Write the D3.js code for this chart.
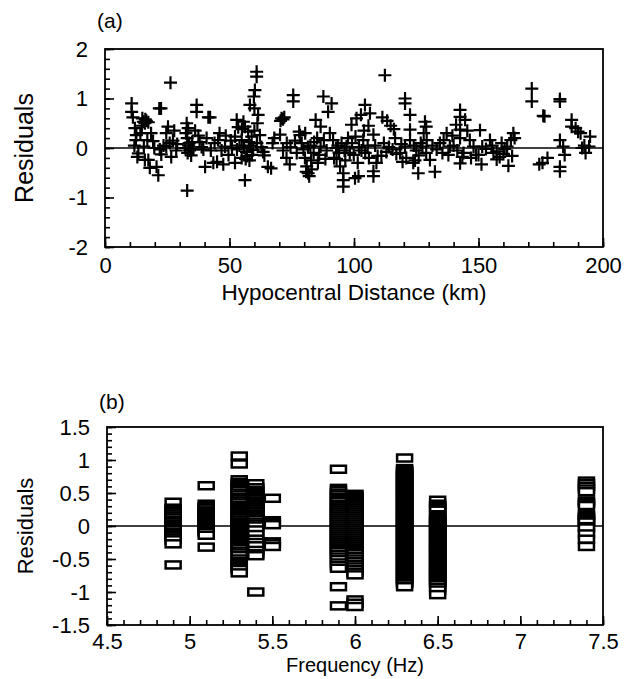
<!DOCTYPE html>
<html>
<head>
<meta charset="utf-8">
<script src="https://cdn.jsdelivr.net/npm/d3@7"></script>
<style>
  body { margin: 0; background: #fff; }
  svg text { font-family: "Liberation Sans", Arial, sans-serif; fill: #000; }
</style>
</head>
<body>
<svg id="chart" width="629" height="679"></svg>
<script>
// (a) residual vs hypocentral distance, [km, residual]
var hypoPts = [
  [10.7,0.90],[10.7,0.73],[11.2,0.62],[12.0,0.40],[12.6,0.26],[12.4,0.16],[11.8,0.05],[13.4,-0.11],[13.0,-0.18],[14.2,0.30],
  [14.8,0.45],[15.4,0.53],[15.0,0.60],[16.0,0.50],[16.6,0.55],[17.4,0.52],[16.2,0.58],[15.6,0.03],[16.0,-0.24],[17.4,-0.24],
  [18.0,-0.40],[17.0,0.16],[19.3,0.14],[18.5,0.30],[19.8,0.00],[21.4,-0.55],[20.7,-0.38],[21.8,0.80],[22.5,0.80],[22.0,-0.03],
  [22.6,-0.13],[23.5,0.05],[24.6,0.30],[25.3,0.43],[26.3,1.32],[26.0,0.10],[24.6,0.03],[27.3,0.15],[28.6,-0.05],[26.6,-0.18],
  [27.8,0.35],[29.0,0.08],
  [32.8,0.50],[33.4,0.40],[32.5,0.30],[33.0,0.20],[33.8,0.10],[32.2,0.00],[34.0,-0.05],[33.2,-0.10],[34.6,-0.15],[33.0,-0.86],
  [33.6,0.05],[34.2,-0.02],[35.0,0.12],[36.8,0.87],[36.8,0.73],[36.2,0.35],[37.5,0.25],[38.0,0.12],[35.5,-0.03],[39.5,-0.03],
  [40.2,-0.38],[41.5,0.62],[42.2,0.62],[40.8,0.20],[44.0,0.10],[46.0,0.30],[45.4,0.16],[46.8,-0.05],[43.5,-0.30],[47.5,-0.33],
  [45.0,-0.28],[48.2,0.03],[49.6,-0.14],[48.5,0.25],[42.5,-0.05],[38.8,0.02],
  [60.9,1.54],[60.9,1.44],[60.2,1.17],[59.8,1.04],[58.2,0.87],[60.0,0.80],[61.5,0.67],[52.9,0.57],[55.6,0.53],[56.2,0.43],
  [57.5,0.33],[52.2,0.23],[54.9,0.16],[58.9,0.23],[62.2,0.26],[51.0,0.00],[53.0,-0.03],[55.8,0.01],[59.5,-0.04],[52.2,-0.30],
  [56.2,-0.65],[54.9,-0.20],[57.0,-0.16],[59.0,-0.14],[64.0,-0.15],[65.4,-0.38],[66.7,-0.41],[68.0,0.20],[67.3,0.10],[53.5,0.42],
  [55.0,0.38],[57.8,0.12],[58.5,0.05],[61.0,0.10],[62.8,0.02],[63.5,-0.08],[54.0,0.05],[56.8,-0.08],[50.5,0.15],[60.0,0.35],
  [61.2,0.50],[56.5,-0.22],[58.0,-0.25],
  [70.9,0.60],[71.5,0.58],[70.5,0.55],[72.0,0.62],[70.3,0.27],[71.5,-0.05],[72.9,-0.20],[74.2,-0.33],[75.6,1.07],[75.6,0.94],
  [76.3,0.15],[78.3,0.26],[79.0,0.10],[79.7,-0.03],[80.3,-0.20],[81.0,-0.37],[81.6,-0.51],[82.0,-0.57],[80.8,-0.48],[83.0,-0.43],
  [78.0,0.33],[80.4,0.30],[87.7,1.04],[84.6,0.57],[86.6,0.43],[87.9,0.16],[86.6,0.03],[89.0,-0.05],[86.0,-0.14],[82.5,0.05],
  [83.8,-0.10],[85.2,0.20],[84.0,0.12],[77.0,-0.10],[74.5,0.02],[73.0,0.10],[81.5,0.02],[82.8,-0.25],[88.5,-0.22],[85.5,-0.30],
  [91.0,0.90],[89.6,0.73],[90.3,0.30],[91.6,0.16],[92.0,-0.20],[93.0,-0.22],[95.7,-0.51],[95.7,-0.65],[95.7,-0.78],[94.4,-0.37],
  [97.6,0.20],[99.0,0.47],[97.0,0.03],[98.3,-0.10],[93.5,0.05],[95.0,0.10],[96.2,-0.05],[92.8,0.00],[94.0,-0.10],[96.5,-0.25],
  [100.6,0.23],[99.2,0.10],[99.9,-0.14],[100.4,-0.61],[101.8,-0.57],[101.0,0.60],[102.8,0.67],[104.4,0.87],[106.4,0.70],[103.7,0.16],
  [107.8,0.27],[107.8,-0.47],[107.8,-0.57],[109.0,-0.30],[109.5,-0.16],[102.0,0.02],[103.0,-0.05],[104.5,-0.10],[105.5,0.05],[106.0,-0.20],
  [104.0,0.35],[105.8,0.45],[108.5,0.05],[101.5,-0.30],
  [112.4,1.47],[111.4,0.62],[113.3,0.55],[114.7,0.45],[116.0,0.38],[113.0,-0.08],[111.0,-0.16],[112.0,0.10],[114.0,0.02],[115.5,-0.03],
  [117.0,-0.12],[118.5,-0.10],[120.5,1.00],[120.5,0.90],[122.5,0.67],[122.5,0.37],[122.5,0.16],[120.5,0.03],[121.0,-0.20],[123.8,-0.30],
  [125.8,-0.51],[128.5,0.53],[129.0,0.43],[128.0,0.30],[129.2,0.16],[127.5,0.03],[129.0,-0.10],[130.5,-0.24],[124.5,-0.25],[126.0,-0.15],
  [119.0,0.08],[124.0,0.05],[125.0,-0.05],[119.5,-0.28],[116.5,0.20],[126.8,0.10],
  [132.5,-0.48],[133.2,-0.03],[131.5,0.05],[134.5,0.10],[137.2,0.30],[136.0,0.16],[138.5,0.03],[137.9,-0.14],[135.5,-0.10],[142.6,0.77],
  [142.6,0.63],[141.0,0.47],[142.6,0.37],[144.6,0.57],[142.6,0.20],[142.6,-0.31],[144.0,-0.10],[146.5,0.16],[148.0,0.03],[149.0,-0.14],
  [140.0,0.05],[139.5,0.25],[145.5,0.35],[141.5,-0.05],[147.0,-0.20],[143.5,-0.18],
  [150.6,0.36],[154.6,0.16],[151.5,0.03],[150.0,-0.14],[151.2,-0.33],[157.3,-0.23],[157.3,-0.07],[159.3,0.10],[160.0,-0.12],[158.5,-0.18],
  [162.0,-0.36],[164.0,0.30],[164.5,0.20],[163.0,0.16],[161.5,0.03],[163.5,-0.16],[155.5,0.05],[153.0,-0.02],[156.0,-0.10],[160.5,-0.02],
  [171.4,1.20],[171.4,0.94],[176.0,0.65],[176.5,0.64],[182.7,0.94],[182.7,0.99],[187.4,0.57],[187.4,0.43],[189.0,0.40],[190.0,0.33],
  [191.0,0.30],[194.8,0.23],[182.7,0.16],[184.0,0.03],[184.6,-0.14],[182.7,-0.38],[182.7,-0.47],[177.7,-0.20],[175.7,-0.30],[174.4,-0.33],
  [191.6,0.00],[194.4,0.03],[193.0,-0.10],[192.5,0.05]
];

// (b) residual vs frequency, one array per frequency
var freqs = [4.9, 5.1, 5.3, 5.4, 5.5, 5.9, 6.0, 6.3, 6.5, 7.4];
var res49 = [0.36,0.27,0.25,0.23,0.21,0.18,0.15,0.12,0.08,0.06,0.03,0.01,-0.01,-0.03,-0.05,-0.09,-0.11,-0.13,-0.15,-0.18,-0.21,-0.27,-0.59];
var res51 = [0.61,0.33,0.30,0.27,0.23,0.20,0.17,0.14,0.11,0.08,0.05,0.02,-0.01,-0.04,-0.07,-0.10,-0.14,-0.32];
var res53 = [1.06,0.94,0.70,0.66,0.63,0.60,0.57,0.54,0.50,0.47,0.43,0.41,0.38,0.35,0.31,0.28,0.25,0.22,0.20,0.17,0.14,0.12,0.09,0.06,
  0.04,0.01,-0.02,-0.04,-0.07,-0.10,-0.13,-0.16,-0.19,-0.22,-0.25,-0.28,-0.31,-0.34,-0.38,-0.41,-0.45,-0.50,-0.54,-0.57,-0.60,-0.63,-0.66,-0.71];
var res54 = [0.64,0.58,0.54,0.51,0.48,0.46,0.43,0.41,0.38,0.36,0.33,0.31,0.28,0.26,0.23,0.21,0.18,0.16,0.13,0.10,0.06,0.03,0.00,
  -0.06,-0.13,-0.20,-0.25,-0.30,-0.37,-0.42,-0.45,-1.00];
var res55 = [0.42,0.08,0.05,0.02,-0.24,-0.27,-0.31];
var res59 = [0.86,0.57,0.54,0.50,0.47,0.43,0.40,0.37,0.33,0.30,0.27,0.24,0.21,0.18,0.15,0.12,0.09,0.06,0.03,0.00,-0.03,-0.06,-0.09,
  -0.12,-0.15,-0.18,-0.21,-0.24,-0.27,-0.30,-0.33,-0.36,-0.39,-0.43,-0.47,-0.51,-0.56,-0.60,-0.64,-0.92,-1.21];
var res60 = [0.48,0.45,0.42,0.39,0.36,0.33,0.30,0.27,0.24,0.21,0.18,0.15,0.12,0.09,0.06,0.03,0.00,-0.03,-0.06,-0.09,-0.12,-0.15,
  -0.18,-0.21,-0.24,-0.27,-0.30,-0.33,-0.36,-0.39,-0.42,-0.46,-0.50,-0.54,-0.58,-0.62,-0.66,-0.70,-0.74,-1.12,-1.17,-1.22];
var res63 = [1.03,0.87,0.85,0.83,0.82,0.80,0.78,0.76,0.74,0.72,0.70,0.68,0.66,0.65,0.63,0.61,0.59,0.57,0.55,0.53,0.51,0.49,0.48,
  0.46,0.44,0.42,0.40,0.38,0.36,0.34,0.32,0.31,0.29,0.27,0.25,0.23,0.21,0.19,0.17,0.15,0.14,0.12,0.10,0.08,0.06,0.04,0.02,0.00,
  -0.01,-0.03,-0.05,-0.07,-0.09,-0.11,-0.13,-0.15,-0.16,-0.18,-0.20,-0.22,-0.24,-0.26,-0.28,-0.30,-0.32,-0.33,-0.35,-0.37,-0.39,
  -0.41,-0.43,-0.45,-0.47,-0.49,-0.50,-0.52,-0.54,-0.56,-0.58,-0.60,-0.62,-0.64,-0.66,-0.67,-0.69,-0.71,-0.73,-0.75,-0.77,-0.79,
  -0.81,-0.83,-0.84,-0.86,-0.88,-0.92];
var res65 = [0.39,0.33,0.31,0.29,0.27,0.24,0.17,0.15,0.13,0.11,0.09,0.07,0.05,0.03,0.02,0.00,-0.02,-0.04,-0.06,-0.08,-0.10,-0.12,
  -0.14,-0.15,-0.17,-0.19,-0.21,-0.23,-0.25,-0.27,-0.29,-0.31,-0.33,-0.34,-0.36,-0.38,-0.40,-0.42,-0.44,-0.46,-0.48,-0.50,-0.51,
  -0.53,-0.55,-0.57,-0.59,-0.61,-0.63,-0.65,-0.67,-0.68,-0.70,-0.72,-0.74,-0.76,-0.78,-0.80,-0.82,-0.84,-0.85,-0.87,-0.89,-0.93,
  -0.97,-1.04];
var res74 = [0.68,0.64,0.60,0.56,0.52,0.38,0.36,0.34,0.31,0.17,0.15,0.13,0.11,0.08,0.06,-0.01,-0.03,-0.12,-0.20,-0.31];
var resB = [res49, res51, res53, res54, res55, res59, res60, res63, res65, res74];

// axis ticks
var ticksAX = [0, 50, 100, 150, 200];
var ticksAY = [-2, -1, 0, 1, 2];
var ticksBX = [4.5, 5, 5.5, 6, 6.5, 7, 7.5];
var ticksBY = [-1.5, -1, -0.5, 0, 0.5, 1, 1.5];

var svg = d3.select("#chart");

function panel(cfg) {
    var x = d3.scaleLinear().domain(cfg.xd).range([cfg.left, cfg.right]);
    var y = d3.scaleLinear().domain(cfg.yd).range([cfg.bottom, cfg.top]);
    var g = svg.append("g");

    // minor ticks
    g.append("g").attr("transform", "translate(0," + cfg.bottom + ")")
        .call(d3.axisBottom(x).tickValues(cfg.xMinor).tickSize(-5).tickFormat(""))
        .call(s => s.select(".domain").remove());
    g.append("g").attr("transform", "translate(" + cfg.left + ",0)")
        .call(d3.axisLeft(y).tickValues(cfg.yMinor).tickSize(-5).tickFormat(""))
        .call(s => s.select(".domain").remove());
    // major ticks + labels
    var ax = g.append("g").attr("transform", "translate(0," + cfg.bottom + ")")
        .call(d3.axisBottom(x).tickValues(cfg.xt).tickSize(-9).tickPadding(cfg.xpad).tickFormat(d => String(d)));
    var ay = g.append("g").attr("transform", "translate(" + cfg.left + ",0)")
        .call(d3.axisLeft(y).tickValues(cfg.yt).tickSize(-9).tickPadding(17).tickFormat(d => String(d)));
    [ax, ay].forEach(function(a) {
        a.select(".domain").remove();
        a.selectAll("text").attr("font-size", "22px").attr("font-family", "Liberation Sans, Arial, sans-serif");
    });
    g.selectAll(".tick line").attr("stroke", "#000").attr("stroke-width", 1.6);

    // zero line
    g.append("line")
        .attr("x1", cfg.left).attr("x2", cfg.right)
        .attr("y1", y(0)).attr("y2", y(0))
        .attr("stroke", "#000").attr("stroke-width", 1.6);

    // frame
    g.append("rect")
        .attr("x", cfg.left).attr("y", cfg.top)
        .attr("width", cfg.right - cfg.left).attr("height", cfg.bottom - cfg.top)
        .attr("fill", "none").attr("stroke", "#000").attr("stroke-width", 1.8);

    // titles
    g.append("text").attr("x", (cfg.left + cfg.right) / 2).attr("y", cfg.xtY)
        .attr("text-anchor", "middle").attr("font-size", cfg.xtSize + "px").text(cfg.xTitle);
    g.append("text").attr("transform", "translate(" + cfg.ytX + "," + y(0) + ") rotate(-90)")
        .attr("text-anchor", "middle").attr("font-size", cfg.ytSize + "px").text("Residuals");
    g.append("text").attr("x", cfg.tagX).attr("y", cfg.tagY)
        .attr("font-size", "21px").text(cfg.tag);

    return { g: g, x: x, y: y };
}

var pa = panel({
    xd: [0, 200], yd: [-2, 2], left: 105, right: 603, top: 49, bottom: 247,
    xt: ticksAX, yt: ticksAY, xMinor: d3.range(0, 201, 10), yMinor: d3.range(-20, 21, 2).map(d => d / 10),
    xpad: 10, xTitle: "Hypocentral Distance (km)", xtY: 300, xtSize: 22.5, ytX: 33, ytSize: 25,
    tag: "(a)", tagX: 97, tagY: 28
});

pa.g.append("g").selectAll("path")
    .data(hypoPts)
    .join("path")
    .attr("transform", d => "translate(" + pa.x(d[0]) + "," + pa.y(d[1]) + ")")
    .attr("d", "M-6.5,0H6.5M0,-6.5V6.5")
    .attr("fill", "none")
    .attr("stroke", "#000")
    .attr("stroke-width", 2.2);

var pb = panel({
    xd: [4.5, 7.5], yd: [-1.5, 1.5], left: 107, right: 603, top: 427, bottom: 625,
    xt: ticksBX, yt: ticksBY, xMinor: d3.range(45, 76, 1).map(d => d / 10), yMinor: d3.range(-15, 16, 1).map(d => d / 10),
    xpad: 8, xTitle: "Frequency (Hz)", xtY: 672, xtSize: 20, ytX: 33, ytSize: 22,
    tag: "(b)", tagX: 99, tagY: 409
});

// boxes drawn top to bottom so each one covers the lower part of the one above
var boxes = [];
freqs.forEach(function(f, i) {
    resB[i].slice().sort((a, b) => b - a).forEach(function(r) { boxes.push([f, r]); });
});

pb.g.append("g").selectAll("rect")
    .data(boxes)
    .join("rect")
    .attr("x", d => pb.x(d[0]) - 7.5)
    .attr("y", d => pb.y(d[1]) - 3.5)
    .attr("width", 15)
    .attr("height", 7)
    .attr("fill", "#fff")
    .attr("stroke", "#000")
    .attr("stroke-width", 2.5);
</script>
</body>
</html>
